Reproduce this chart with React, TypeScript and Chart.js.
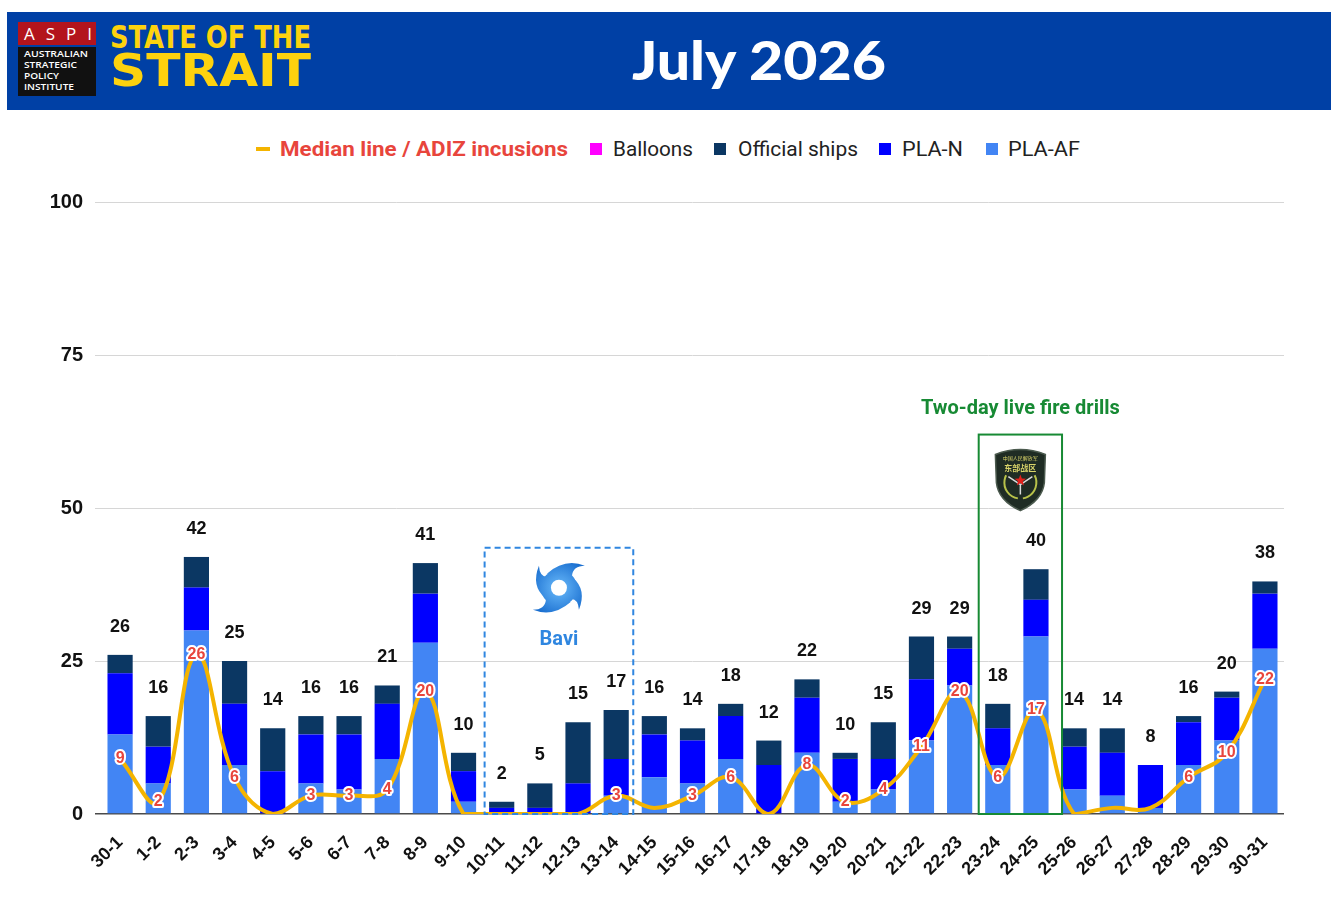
import { useEffect, useRef } from 'react';
import { Chart, registerables } from 'chart.js';

Chart.register(...registerables);

// day pairs of July 2026
const categories = [
  '30-1', '1-2', '2-3', '3-4', '4-5', '5-6', '6-7', '7-8', '8-9', '9-10',
  '10-11', '11-12', '12-13', '13-14', '14-15', '15-16', '16-17', '17-18', '18-19', '19-20',
  '20-21', '21-22', '22-23', '23-24', '24-25', '25-26', '26-27', '27-28', '28-29', '29-30', '30-31',
];

const plaAf = [13, 5, 30, 8, 0, 5, 4, 9, 28, 2, 0, 0, 0, 3, 6, 5, 9, 0, 10, 2, 4, 12, 21, 8, 29, 4, 3, 1, 8, 12, 27];
const plaN = [10, 6, 7, 10, 7, 8, 9, 9, 8, 5, 1, 1, 5, 6, 7, 7, 7, 8, 9, 7, 5, 10, 6, 6, 6, 7, 7, 7, 7, 7, 9];
const officialShips = [3, 5, 5, 7, 7, 3, 3, 3, 5, 3, 1, 4, 10, 8, 3, 2, 2, 4, 3, 1, 6, 7, 2, 4, 5, 3, 4, 0, 1, 1, 2];
const balloons = [0, 0, 0, 0, 0, 0, 0, 0, 0, 0, 0, 0, 0, 0, 0, 0, 0, 0, 0, 0, 0, 0, 0, 0, 0, 0, 0, 0, 0, 0, 0];
const medianLine = [9, 2, 26, 6, 0, 3, 3, 4, 20, 0, 0, 0, 0, 3, 1, 3, 6, 0, 8, 2, 4, 11, 20, 6, 17, 0, 1, 1, 6, 10, 22];

const yTicks = [0, 25, 50, 75, 100];

// annotated periods (category indexes) and box tops (axis values)
const typhoonRange = [10, 13];
const typhoonTop = 43.5;
const drillsRange = [23, 24];
const drillsTop = 62;

const C = {
  af: '#4285f4',
  n: '#0000ff',
  ships: '#0b3763',
  balloons: '#ff00ff',
  median: '#f4b400',
  red: '#e8453c',
  green: '#178a34',
  typhoon: '#2f86e0',
  banner: '#0040a5',
  yellow: '#fdd20e',
};

function drawTyphoon(ctx: CanvasRenderingContext2D, cx: number, cy: number) {
  ctx.save();
  ctx.translate(cx, cy);
  const g = ctx.createRadialGradient(0, 0, 4, 0, 0, 30);
  g.addColorStop(0, '#5fb0f5');
  g.addColorStop(1, '#1a6fd0');
  ctx.fillStyle = g;
  for (const rot of [0, Math.PI]) {
    ctx.save();
    ctx.rotate(rot);
    ctx.beginPath();
    ctx.moveTo(-12, -14);
    ctx.quadraticCurveTo(6, -30, 26, -22);
    ctx.quadraticCurveTo(14, -22, 13, -12);
    ctx.closePath();
    ctx.fill();
    ctx.beginPath();
    ctx.moveTo(14, -10);
    ctx.quadraticCurveTo(28, 2, 20, 22);
    ctx.quadraticCurveTo(19, 8, 8, 12);
    ctx.closePath();
    ctx.fill();
    ctx.restore();
  }
  ctx.beginPath();
  ctx.arc(0, 0, 18, 0, Math.PI * 2);
  ctx.fill();
  ctx.fillStyle = '#ffffff';
  ctx.beginPath();
  ctx.arc(0, 0, 8, 0, Math.PI * 2);
  ctx.fill();
  ctx.restore();
}

function drawBadge(ctx: CanvasRenderingContext2D, cx: number, cy: number) {
  ctx.save();
  ctx.translate(cx, cy);
  ctx.beginPath();
  ctx.moveTo(-25, -24);
  ctx.quadraticCurveTo(0, -34, 25, -24);
  ctx.lineTo(24, 4);
  ctx.quadraticCurveTo(22, 22, 0, 32);
  ctx.quadraticCurveTo(-22, 22, -24, 4);
  ctx.closePath();
  ctx.fillStyle = '#1f2c24';
  ctx.fill();
  ctx.strokeStyle = '#4b5a4e';
  ctx.lineWidth = 1.5;
  ctx.stroke();

  ctx.fillStyle = '#d9d46a';
  ctx.textAlign = 'center';
  ctx.textBaseline = 'middle';
  ctx.font = '5px "Noto Sans CJK SC"';
  ctx.fillText('中国人民解放军', 0, -20);
  ctx.font = 'bold 8px "Noto Sans CJK SC"';
  ctx.fillText('东部战区', 0, -11);

  // laurel
  ctx.strokeStyle = '#b8c24a';
  ctx.lineWidth = 2;
  ctx.beginPath();
  ctx.arc(0, 4, 16, Math.PI * 0.55, Math.PI * 1.15);
  ctx.stroke();
  ctx.beginPath();
  ctx.arc(0, 4, 16, -Math.PI * 0.15, Math.PI * 0.45);
  ctx.stroke();

  // wings / anchor
  ctx.strokeStyle = '#dcdcdc';
  ctx.lineWidth = 1.5;
  ctx.beginPath();
  ctx.moveTo(-12, -2);
  ctx.lineTo(0, 6);
  ctx.lineTo(12, -2);
  ctx.moveTo(0, 6);
  ctx.lineTo(0, 16);
  ctx.stroke();

  // red star
  ctx.fillStyle = '#e0201b';
  ctx.beginPath();
  for (let i = 0; i < 10; i++) {
    const r = i % 2 === 0 ? 6 : 2.5;
    const a = -Math.PI / 2 + (i * Math.PI) / 5;
    ctx.lineTo(Math.cos(a) * r, 2 + Math.sin(a) * r);
  }
  ctx.closePath();
  ctx.fill();
  ctx.restore();
}

const overlayPlugin = {
  id: 'overlay',
  afterDatasetsDraw(chart: any) {
    const { ctx } = chart;
    const x = chart.scales.x;
    const y = chart.scales.y;
    const catW = x.getPixelForValue(1) - x.getPixelForValue(0);

    ctx.save();

    // typhoon box
    const tl = x.getPixelForValue(typhoonRange[0]) - catW / 2 + 2;
    const tr = x.getPixelForValue(typhoonRange[1]) + catW / 2 - 2;
    const tt = y.getPixelForValue(typhoonTop);
    const tb = y.getPixelForValue(0);
    ctx.setLineDash([6, 4]);
    ctx.strokeStyle = C.typhoon;
    ctx.lineWidth = 2;
    ctx.strokeRect(tl, tt, tr - tl, tb - tt);
    ctx.setLineDash([]);
    drawTyphoon(ctx, (tl + tr) / 2, tt + 40);
    ctx.fillStyle = C.typhoon;
    ctx.font = 'bold 20px Roboto';
    ctx.textAlign = 'center';
    ctx.textBaseline = 'alphabetic';
    ctx.fillText('Bavi', (tl + tr) / 2, tt + 97);

    // drills box
    const dl = x.getPixelForValue(drillsRange[0]) - catW / 2;
    const dr = x.getPixelForValue(drillsRange[1]) + catW / 2 + 7;
    const dt = y.getPixelForValue(drillsTop);
    ctx.strokeStyle = C.green;
    ctx.lineWidth = 2;
    ctx.strokeRect(dl, dt, dr - dl, tb - dt);
    drawBadge(ctx, (dl + dr) / 2, dt + 44);
    ctx.fillStyle = C.green;
    ctx.font = 'bold 20px Roboto';
    ctx.fillText('Two-day live fire drills', (dl + dr) / 2, dt - 21);

    // totals above bars
    ctx.fillStyle = '#111111';
    ctx.font = 'bold 18px "Liberation Sans"';
    categories.forEach((_, i) => {
      const total = plaAf[i] + plaN[i] + officialShips[i] + balloons[i];
      ctx.fillText(String(total), x.getPixelForValue(i), y.getPixelForValue(total) - 23);
    });

    // median labels
    ctx.font = 'bold 16px "Liberation Sans"';
    ctx.textBaseline = 'middle';
    ctx.lineJoin = 'round';
    medianLine.forEach((v, i) => {
      if (v < 2) return;
      const px = x.getPixelForValue(i);
      const py = y.getPixelForValue(v);
      ctx.strokeStyle = '#ffffff';
      ctx.lineWidth = 4;
      ctx.strokeText(String(v), px, py);
      ctx.fillStyle = C.red;
      ctx.fillText(String(v), px, py);
    });

    ctx.restore();
  },
};

function Header() {
  const legend = [
    { label: 'Balloons', color: C.balloons, sq: 590, tx: 613, len: 80 },
    { label: 'Official ships', color: C.ships, sq: 714, tx: 738, len: 120 },
    { label: 'PLA-N', color: C.n, sq: 879, tx: 902, len: 61 },
    { label: 'PLA-AF', color: C.af, sq: 986, tx: 1008, len: 72 },
  ];
  return (
    <svg width={1342} height={170} style={{ position: 'absolute', left: 0, top: 0 }}>
      <rect x={7} y={12} width={1324} height={98} fill={C.banner} />
      <rect x={18} y={22} width={78} height={23} fill="#b3141c" />
      <text x={24} y={40} fill="#fff" fontFamily="'Open Sans'" fontSize={17} textLength={68} lengthAdjust="spacing">
        ASPI
      </text>
      <rect x={18} y={47} width={78} height={49} fill="#111" />
      {[
        ['AUSTRALIAN', 57, 64],
        ['STRATEGIC', 68, 53],
        ['POLICY', 79, 35],
        ['INSTITUTE', 90, 50],
      ].map(([t, yy, len]) => (
        <text
          key={t as string}
          x={24}
          y={yy as number}
          fill="#fff"
          fontFamily="'Open Sans'"
          fontWeight={600}
          fontSize={9.5}
          textLength={len as number}
          lengthAdjust="spacingAndGlyphs"
        >
          {t}
        </text>
      ))}
      <text
        x={110}
        y={48}
        fill={C.yellow}
        fontFamily="'DejaVu Sans Condensed'"
        fontWeight={700}
        fontSize={32}
        textLength={201}
        lengthAdjust="spacingAndGlyphs"
      >
        STATE OF THE
      </text>
      <text
        x={110}
        y={86}
        fill={C.yellow}
        fontFamily="'DejaVu Sans Condensed'"
        fontWeight={700}
        fontSize={45}
        textLength={201}
        lengthAdjust="spacingAndGlyphs"
      >
        STRAIT
      </text>
      <text
        x={632}
        y={80}
        fill="#fff"
        fontFamily="Lato"
        fontWeight={900}
        fontSize={54}
        textLength={254}
        lengthAdjust="spacingAndGlyphs"
      >
        July 2026
      </text>

      <line x1={256} y1={149} x2={270} y2={149} stroke={C.median} strokeWidth={4} />
      <text x={280} y={156} fill={C.red} fontFamily="Roboto" fontWeight={700} fontSize={20} textLength={288} lengthAdjust="spacingAndGlyphs">
        Median line / ADIZ incusions
      </text>
      {legend.map((l) => (
        <g key={l.label}>
          <rect x={l.sq} y={143} width={12} height={12} fill={l.color} />
          <text x={l.tx} y={156} fill="#222" fontFamily="Roboto" fontSize={20} textLength={l.len} lengthAdjust="spacingAndGlyphs">
            {l.label}
          </text>
        </g>
      ))}
    </svg>
  );
}

export default function App() {
  const canvasRef = useRef<HTMLCanvasElement>(null);

  useEffect(() => {
    if (!canvasRef.current) return;

    const bar = (label: string, data: number[], color: string) => ({
      type: 'bar' as const,
      label,
      data,
      backgroundColor: color,
      borderWidth: 0,
      barPercentage: 0.66,
      categoryPercentage: 1,
      stack: 'totals',
      order: 1,
    });

    const chart = new Chart(canvasRef.current, {
      type: 'bar',
      data: {
        labels: categories,
        datasets: [
          {
            type: 'line',
            label: 'Median line / ADIZ incusions',
            data: medianLine,
            borderColor: C.median,
            borderWidth: 4,
            pointRadius: 0,
            tension: 0.4,
            stack: 'median',
            order: 0,
          } as any,
          bar('PLA-AF', plaAf, C.af),
          bar('PLA-N', plaN, C.n),
          bar('Official ships', officialShips, C.ships),
          bar('Balloons', balloons, C.balloons),
        ],
      },
      options: {
        responsive: false,
        animation: false,
        layout: { padding: { top: 30, right: 58, left: 0, bottom: 0 } },
        plugins: {
          legend: { display: false },
          tooltip: { enabled: false },
        },
        scales: {
          x: {
            stacked: true,
            grid: { display: false },
            border: { display: false },
            ticks: {
              minRotation: 45,
              maxRotation: 45,
              autoSkip: false,
              padding: 10,
              color: '#111',
              font: { family: 'Liberation Sans', size: 18, weight: 'bold' },
            },
            afterFit: (s: any) => {
              s.height = 89;
            },
          },
          y: {
            stacked: true,
            min: 0,
            max: 100,
            afterBuildTicks: (s: any) => {
              s.ticks = yTicks.map((v) => ({ value: v }));
            },
            grid: {
              color: (c: any) => (c.tick && c.tick.value === 0 ? '#4a4a4a' : '#d6d6d6'),
              lineWidth: (c: any) => (c.tick && c.tick.value === 0 ? 1.5 : 1),
              drawTicks: true,
              tickLength: 6,
            },
            border: { display: false },
            ticks: {
              padding: 12,
              color: '#111',
              font: { family: 'Liberation Sans', size: 20, weight: 'bold' },
            },
            afterFit: (s: any) => {
              s.width = 101;
            },
          },
        },
      },
      plugins: [overlayPlugin],
    });

    return () => chart.destroy();
  }, []);

  return (
    <div style={{ position: 'fixed', left: 0, top: 0, width: 1342, height: 901, background: '#fff', overflow: 'hidden' }}>
      <Header />
      <canvas
        ref={canvasRef}
        width={1342}
        height={731}
        style={{ position: 'absolute', left: 0, top: 172, display: 'block' }}
      />
    </div>
  );
}
